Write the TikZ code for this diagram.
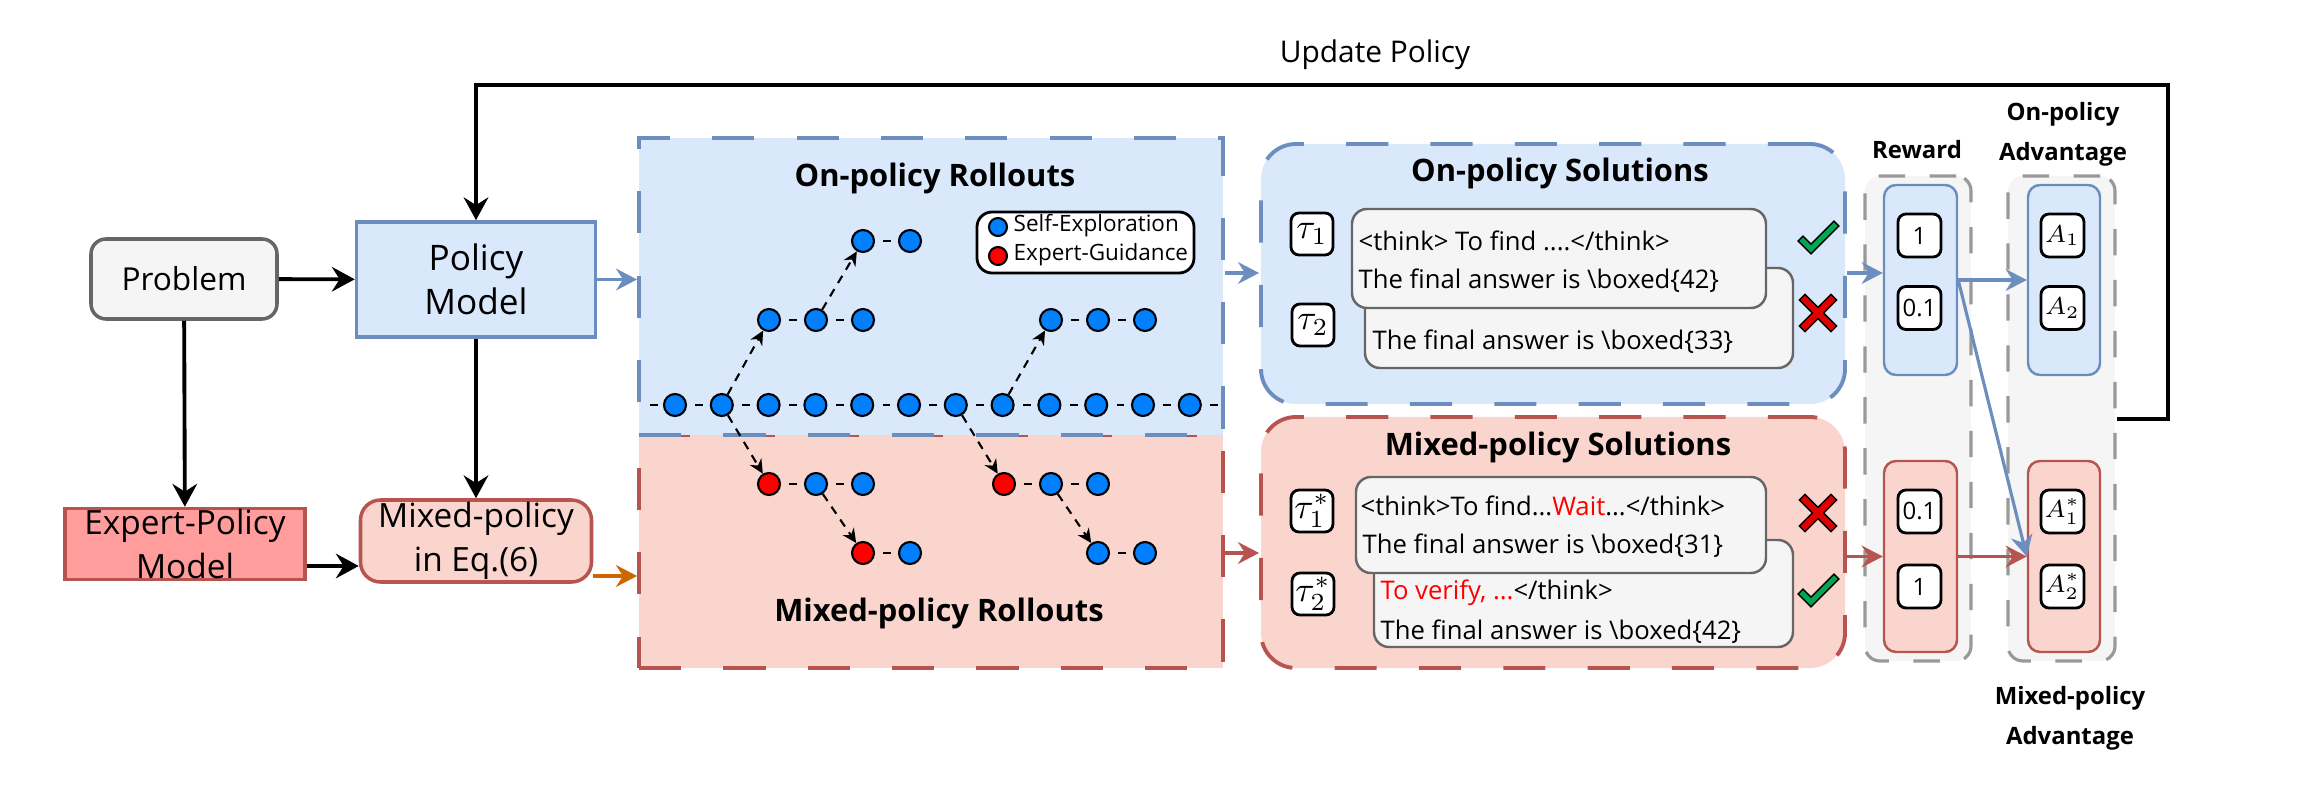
\documentclass[tikz,border=0pt]{standalone}
\usepackage{fontspec}
\setmainfont{Open Sans}
\usetikzlibrary{positioning,fit,arrows.meta}
\definecolor{blfill}{HTML}{DAE8FC}
\definecolor{blline}{HTML}{6C8EBF}
\definecolor{rdfill}{HTML}{FAD5CE}
\definecolor{rdline}{HTML}{B85450}
\definecolor{exfill}{HTML}{FF9C9C}
\definecolor{gyfill}{HTML}{F5F5F5}
\definecolor{gyline}{HTML}{666666}
\definecolor{grpline}{HTML}{999999}
\definecolor{dotblue}{HTML}{007FFF}
\definecolor{dotred}{HTML}{FF0000}
\definecolor{orng}{HTML}{CC6600}
\definecolor{okgreen}{HTML}{00A651}
\definecolor{badred}{HTML}{E00000}
\tikzset{
  mbox/.style={line width=1pt, align=center, inner sep=0pt, font=\fontsize{9.5}{12.5}\selectfont},
  region/.style={line width=1.1pt, dash pattern=on 12pt off 12pt, inner sep=0pt},
  soln/.style={region, rounded corners=3.5mm},
  title/.style={font=\fontsize{8.8}{11}\selectfont\bfseries, inner sep=0pt},
  hdr/.style={font=\fontsize{6.8}{11.4}\selectfont\bfseries, inner sep=0pt, align=center},
  dot/.style={circle, draw, line width=0.6pt, fill=dotblue, minimum size=2.2mm, inner sep=0pt},
  xdot/.style={dot, fill=dotred},
  hop/.style={line width=0.6pt, dash pattern=on 0pt off 2.4pt on 2.2pt off 20pt},
  jump/.style={line width=0.6pt, dash pattern=on 2.4pt off 2pt, -{Stealth[length=4pt,width=3.8pt,inset=1.3pt]}},
  resp/.style={draw=gyline, fill=gyfill, line width=0.7pt, rounded corners=1.5mm, inner sep=0pt},
  txt/.style={font=\fontsize{7.3}{9}\selectfont, anchor=west, inner sep=0pt},
  tag/.style={draw, fill=white, line width=0.8pt, rounded corners=0.8mm, minimum size=4.2mm, inner sep=0pt, font=\fontsize{10}{12}\selectfont},
  grp/.style={draw=grpline, fill=gyfill, line width=0.9pt, dash pattern=on 7.5pt off 7pt, rounded corners=1.5mm, inner sep=0pt},
  col/.style={line width=0.7pt, rounded corners=1.2mm, inner sep=0pt},
  val/.style={tag, minimum size=4.3mm, font=\fontsize{6.8}{8}\selectfont},
  arr/.style={-{Stealth[length=6.5pt,width=7pt,inset=2.2pt]}, line width=1.1pt},
  carr/.style={-{Stealth[length=6pt,width=6.2pt,inset=2pt]}, line width=0.9pt, draw=#1, fill=#1},
  okmark/.pic={
    \draw[line width=2.4pt, line cap=rect, line join=miter] (-15,4) -- (-7,12) -- (16,-11);
    \draw[okgreen, line width=1.5pt, line cap=rect, line join=miter] (-15,4) -- (-7,12) -- (16,-11);},
  badmark/.pic={
    \draw[line width=2.7pt, line cap=rect] (-13,-13) -- (13,13) (-13,13) -- (13,-13);
    \draw[badred, line width=1.8pt, line cap=rect] (-13,-13) -- (13,13) (-13,13) -- (13,-13);},
}
\begin{document}
\begin{tikzpicture}[x=0.1mm, y=-0.1mm]
  \useasboundingbox (0,0) rectangle (2300,802);
  % models
  \node[mbox, draw=gyline, fill=gyfill, rounded corners=1.5mm, minimum width=18.6mm, minimum height=8mm, font=\fontsize{9}{11}\selectfont] (prob) at (184,279) {Problem};
  \node[mbox, draw=blline, fill=blfill, minimum width=23.9mm, minimum height=11.5mm, font=\fontsize{10}{12.5}\selectfont] (policy) at (476,279.5) {Policy\\Model};
  \node[mbox, draw=rdline, fill=exfill, minimum width=24mm, minimum height=7.1mm] (expert) at (185,544) {Expert-Policy\\Model};
  \node[mbox, draw=rdline, fill=rdfill, rounded corners=2mm, minimum width=23.1mm, minimum height=8.2mm] (mixpol) at (476,541) {Mixed-policy\\in Eq.(6)};
  % rollouts
  \node[region, draw=rdline, fill=rdfill, fit={(639,435) (1223,668)}] (mixroll) {};
  \node[region, draw=blline, fill=blfill, fit={(639,138) (1223,435)}] (onroll) {};
  \node[title] (onrolltitle) at (935,178) {On-policy Rollouts};
  \node[title] (mixrolltitle) at (939,613) {Mixed-policy Rollouts};
  \node[draw, fill=white, line width=0.8pt, rounded corners=1.5mm, inner sep=0pt, fit={(977,212) (1194,273)}] (legend) {};
  \node[dot, minimum size=1.8mm] (lgself) at (998,227) {};
  \node[xdot, minimum size=1.8mm] (lgexp) at (998,256) {};
  \node[txt, font=\fontsize{6.4}{8}\selectfont] (lgselftxt) at (1013,226) {Self-Exploration};
  \node[txt, font=\fontsize{6.4}{8}\selectfont] (lgexptxt) at (1013,255) {Expert-Guidance};
  \coordinate (rowL) at (642,405);
  \coordinate (rowR) at (1221,405);
  \foreach \i in {1,...,12}{\node[dot] (m\i) at ({675+46.8*(\i-1)},405) {};}
  \foreach \i [remember=\i as \lasti (initially 1)] in {2,...,12}{\draw[hop] (m\lasti) -- (m\i);}
  \draw[hop] (rowL) -- (m1);
  \draw[hop] (m12) -- (rowR);
  % self-exploration branches
  \node[dot] (a1) at (769,320) {};
  \node[dot] (a2) at (816,320) {};
  \node[dot] (a3) at (863,320) {};
  \node[dot] (b1) at (863,241) {};
  \node[dot] (b2) at (910,241) {};
  \node[dot] (c1) at (1051,320) {};
  \node[dot] (c2) at (1098,320) {};
  \node[dot] (c3) at (1145,320) {};
  % expert-guided branches
  \node[xdot] (d1) at (769,484) {};
  \node[dot] (d2) at (816,484) {};
  \node[dot] (d3) at (863,484) {};
  \node[xdot] (e1) at (863,553) {};
  \node[dot] (e2) at (910,553) {};
  \node[xdot] (f1) at (1004,484) {};
  \node[dot] (f2) at (1051,484) {};
  \node[dot] (f3) at (1098,484) {};
  \node[dot] (g1) at (1098,553) {};
  \node[dot] (g2) at (1145,553) {};
  \foreach \p/\q in {a1/a2,a2/a3,b1/b2,c1/c2,c2/c3,d1/d2,d2/d3,e1/e2,f1/f2,f2/f3,g1/g2}{\draw[hop] (\p) -- (\q);}
  \foreach \p/\q in {m2/a1,a2/b1,m8/c1,m2/d1,d2/e1,m7/f1,f2/g1}{\draw[jump] (\p) -- (\q);}
  % solutions
  \node[soln, draw=blline, fill=blfill, fit={(1261,144) (1845,404)}] (onsol) {};
  \node[soln, draw=rdline, fill=rdfill, fit={(1261,417) (1845,668)}] (mixsol) {};
  \node[title] (onsoltitle) at (1560,173) {On-policy Solutions};
  \node[title] (mixsoltitle) at (1558,447) {Mixed-policy Solutions};
  \node[tag] (t1) at (1312,234) {$\tau_1$};
  \node[tag] (t2) at (1313,325) {$\tau_2$};
  \node[tag] (t1s) at (1312,511) {$\tau_1^*$};
  \node[tag] (t2s) at (1313,594) {$\tau_2^*$};
  \node[resp, fit={(1365,268) (1793,368)}] (o2) {};
  \node[resp, fit={(1352,209) (1766,308)}] (o1) {};
  \node[txt] (o1a) at (1358,241) {<think> To find ....</think>};
  \node[txt] (o1b) at (1358,281) {The final answer is \textbackslash boxed\{42\}};
  \node[txt] (o2a) at (1372,342) {The final answer is \textbackslash boxed\{33\}};
  \node[resp, fit={(1374,540) (1793,647)}] (x2) {};
  \node[resp, fit={(1356,477) (1766,573)}] (x1) {};
  \node[txt] (x1a) at (1360,506) {<think>To find...{\color{dotred}Wait}...</think>};
  \node[txt] (x1b) at (1362,546) {The final answer is \textbackslash boxed\{31\}};
  \node[txt] (x2a) at (1380,593) {{\color{dotred}To verify, ...}</think>};
  \node[txt] (x2b) at (1380,632) {The final answer is \textbackslash boxed\{42\}};
  \pic (ok1) at (1818,237) {okmark};
  \pic (bad1) at (1818,313) {badmark};
  \pic (bad2) at (1818,513) {badmark};
  \pic (ok2) at (1818,590) {okmark};
  % reward and advantage
  \node[grp, fit={(1865,176) (1971,661)}] (rgrp) {};
  \node[grp, fit={(2008,176) (2115,661)}] (agrp) {};
  \node[col, draw=blline, fill=blfill, fit={(1884,185) (1957,375)}] (rcolb) {};
  \node[col, draw=rdline, fill=rdfill, fit={(1884,461) (1957,652)}] (rcolr) {};
  \node[col, draw=blline, fill=blfill, fit={(2028,185) (2100,375)}] (acolb) {};
  \node[col, draw=rdline, fill=rdfill, fit={(2028,461) (2100,652)}] (acolr) {};
  \node[val] (r1) at (1919.5,235.5) {1};
  \node[val] (r2) at (1919.5,308) {0.1};
  \node[val] (r1s) at (1919.5,511.5) {0.1};
  \node[val] (r2s) at (1919.5,586.5) {1};
  \node[val, font=\fontsize{7.5}{9}\selectfont] (v1) at (2062.5,235.5) {$A_1$};
  \node[val, font=\fontsize{7.5}{9}\selectfont] (v2) at (2062.5,308) {$A_2$};
  \node[val, font=\fontsize{7.5}{9}\selectfont] (v1s) at (2062.5,511.5) {$A_1^*$};
  \node[val, font=\fontsize{7.5}{9}\selectfont] (v2s) at (2062.5,586.5) {$A_2^*$};
  \node[hdr] (rewlab) at (1917,150) {Reward};
  \node[hdr] (onadvlab) at (2063,134) {On-policy\\Advantage};
  \node[hdr] (mixadvlab) at (2070,718) {Mixed-policy\\Advantage};
  % connectors
  \coordinate (yOn) at (0,273);
  \coordinate (yMx) at (0,553);
  \coordinate (yEx) at (0,566);
  \coordinate (yOr) at (0,576);
  \coordinate (yUp) at (0,419);
  \coordinate (loopR) at (2168,85);
  \draw[arr] (prob) -- (policy);
  \draw[arr] (prob) -- (expert);
  \draw[arr] (policy) -- (mixpol);
  \draw[arr] (expert.east |- yEx) -- (mixpol.west |- yEx);
  \draw[carr=orng] (mixpol.east |- yOr) -- (mixroll.west |- yOr);
  \draw[carr=blline] (policy.east) -- (policy.east -| onroll.west);
  \draw[carr=blline] (onroll.east |- yOn) -- (onsol.west |- yOn);
  \draw[carr=rdline] (mixroll.east |- yMx) -- (mixsol.west |- yMx);
  \draw[carr=blline] (onsol.east |- yOn) -- (rcolb.west |- yOn);
  \draw[carr=rdline] (mixsol.east |- rcolr.west) -- (rcolr.west);
  \draw[carr=blline] (rcolb.east) -- (acolb.west);
  \draw[carr=rdline] (rcolr.east) -- (acolr.west);
  \draw[carr=blline] (rcolb.east) -- (acolr.west);
  \draw[arr] (agrp.east |- yUp) -| (loopR) -| (policy.north);
  \node[font=\fontsize{8.5}{10}\selectfont, inner sep=0pt] (uplab) at (1375,55) {Update Policy};
\end{tikzpicture}
\end{document}
